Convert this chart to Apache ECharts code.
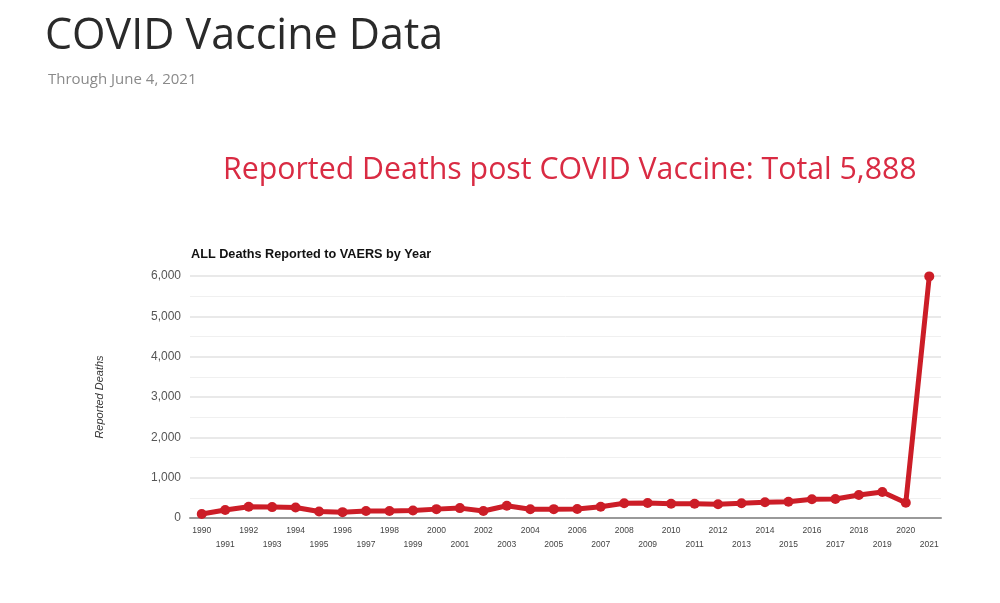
<!DOCTYPE html>
<html><head><meta charset="utf-8">
<script src="https://cdn.jsdelivr.net/npm/echarts@6/dist/echarts.min.js"></script>
<style>html,body{margin:0;padding:0;background:#fff}#c{width:1000px;height:603px}</style>
</head><body><div id="c"></div>
<script>
const years = ['1990','1991','1992','1993','1994','1995','1996','1997','1998','1999','2000','2001','2002','2003','2004','2005','2006','2007','2008','2009','2010','2011','2012','2013','2014','2015','2016','2017','2018','2019','2020','2021'];
const deaths = [100,200,280,270,260,160,145,175,175,185,220,245,175,305,215,220,225,280,365,370,355,355,340,365,390,405,465,470,570,645,380,5990];
const yTicks = [0,1000,2000,3000,4000,5000,6000];

const chart = echarts.init(document.getElementById('c'));
chart.setOption({
  animation:false,
  backgroundColor:'#fff',
  title:[
    {text:'COVID Vaccine Data',left:40,top:10,textStyle:{fontFamily:'Open Sans',fontSize:43,fontWeight:'normal',color:'#2a2a2a'}},
    {text:'Through June 4, 2021',left:43,top:67,textStyle:{fontFamily:'Open Sans',fontSize:15,fontWeight:'normal',color:'#8a8a8a'}},
    {text:'Reported Deaths post COVID Vaccine: Total 5,888',left:218,top:150,textStyle:{fontFamily:'Open Sans',fontSize:30.3,fontWeight:'normal',color:'#d92b43'}},
    {text:'ALL Deaths Reported to VAERS by Year',left:186,top:243,textStyle:{fontFamily:'Liberation Sans',fontSize:12.7,fontWeight:'bold',color:'#111'}}
  ],
  grid:{left:190,right:59,top:276,bottom:85,containLabel:false},
  xAxis:{
    type:'category',data:years,boundaryGap:true,
    axisLine:{lineStyle:{color:'#999',width:2}},
    axisTick:{show:false},
    axisLabel:{interval:0,fontSize:8.5,color:'#444',fontFamily:'Liberation Sans',margin:6,lineHeight:14,
      formatter:(v,i)=> i%2===1 ? '\n'+v : v}
  },
  yAxis:{
    type:'value',min:0,max:6000,interval:1000,
    name:'Reported Deaths',nameLocation:'middle',nameGap:85,nameRotate:90,
    nameTextStyle:{fontStyle:'italic',fontSize:11,color:'#333',fontFamily:'Liberation Sans'},
    axisLine:{show:false},axisTick:{show:false},
    axisLabel:{fontSize:12,color:'#555',fontFamily:'Liberation Sans',margin:9,
      formatter:v=>yTicks.includes(v)?v.toLocaleString('en-US'):''},
    splitLine:{lineStyle:{color:'#e2e2e2',width:1.5}},
    minorTick:{show:false,splitNumber:2},
    minorSplitLine:{show:true,lineStyle:{color:'#f0f0f0',width:1}}
  },
  series:[{
    type:'line',data:deaths,
    lineStyle:{color:'#cc1d27',width:5},
    itemStyle:{color:'#cc1d27'},
    symbol:'circle',symbolSize:10,showSymbol:true
  }]
});
</script></body></html>
